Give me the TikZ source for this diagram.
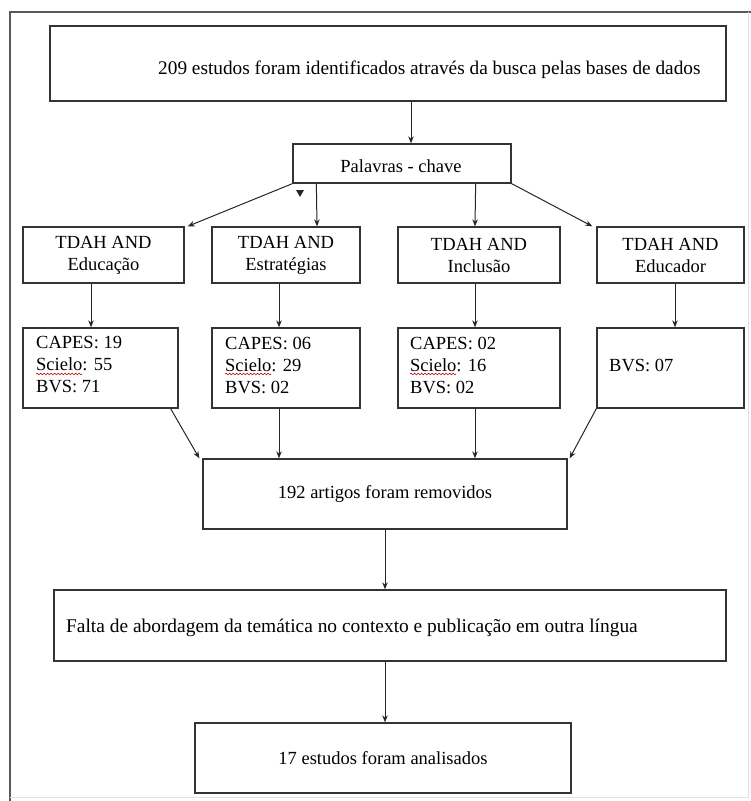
\documentclass[tikz,border=0pt]{standalone}
\usepackage{fontspec}
\setmainfont{Liberation Serif}
\usetikzlibrary{arrows.meta,decorations.pathmorphing}

\begin{document}
\begin{tikzpicture}[x=1pt,y=-1pt,
		caixa/.style={draw=black!80,line width=1.3pt,inner sep=0pt},
		texto/.style={anchor=west,inner sep=0pt,align=left},
		seta/.style={draw=black!85,line width=1pt,-{Stealth[length=7pt,width=5.5pt]}},
		onda/.style={draw=red!75!black,line width=0.6pt,decorate,decoration={snake,amplitude=0.8pt,segment length=3.5pt}},
		font=\fontsize{18.5}{22}\selectfont]

			\useasboundingbox (0,0) rectangle (751,801);
			\draw[black!65,line width=1.5pt] (10,801) -- (10,12) -- (751,12);
			\draw[black!12] (748,12) -- (748,797) -- (10,797);

			\node[caixa,minimum width=676,minimum height=75] (busca) at (388,63.5) {};
			\node[texto,font=\fontsize{19.3}{22}\selectfont] (tbusca) at (158,70) {209 estudos foram identificados através da busca pelas bases de dados};

			\node[caixa,minimum width=218,minimum height=39] (chave) at (402,163.5) {};
			\node (tchave) at (401,166) {Palavras - chave};

			\node[caixa,minimum width=161,minimum height=56,align=center] (e1) at (103.5,255) {TDAH AND\\Educação};
			\node[caixa,minimum width=148,minimum height=56,align=center] (e2) at (286,255) {TDAH AND\\Estratégias};
			\node[caixa,minimum width=162,minimum height=56,align=center] (e3) at (479,255) {TDAH AND\\Inclusão};
			\node[caixa,minimum width=147,minimum height=56,align=center] (e4) at (670.5,255) {TDAH AND\\Educador};

			\node[caixa,minimum width=155,minimum height=80] (b1) at (100.5,368) {};
			\node[caixa,minimum width=148,minimum height=80] (b2) at (286,368) {};
			\node[caixa,minimum width=162,minimum height=80] (b3) at (479,368) {};
			\node[caixa,minimum width=147,minimum height=80] (b4) at (670.5,368) {};

			\node[texto] (t1) at (36,365) {CAPES: 19\\Scielo: 55\\BVS: 71};
			\node[texto] (t2) at (225,365) {CAPES: 06\\Scielo: 29\\BVS: 02};
			\node[texto] (t3) at (410,365) {CAPES: 02\\Scielo: 16\\BVS: 02};
			\node[texto] (t4) at (609,365) {BVS: 07};

			\draw[onda] ([shift={(0,9)}]t1.west) -- ++(46,0);
			\draw[onda] ([shift={(0,9)}]t2.west) -- ++(46,0);
			\draw[onda] ([shift={(0,9)}]t3.west) -- ++(46,0);

			\node[caixa,minimum width=364,minimum height=70] (removidos) at (385,494) {192 artigos foram removidos};

			\node[caixa,minimum width=672,minimum height=71] (falta) at (390,625.5) {};
			\node[texto,font=\fontsize{19.4}{22}\selectfont] (tfalta) at (66,628) {Falta de abordagem da temática no contexto e publicação em outra língua};

			\node[caixa,minimum width=376,minimum height=70] (final) at (383,758) {17 estudos foram analisados};

			\draw[seta] ([xshift=23pt]busca.south) -- ([xshift=9pt]chave.north);

			\draw[seta] (chave.south west) -- ([xshift=3pt]e1.north east);
			\draw[seta] ([xshift=24pt]chave.south west) -- ([xshift=31pt]e2.north);
			\draw[seta] ([xshift=-36pt]chave.south east) -- ([xshift=-4pt]e3.north);
			\draw[seta] (chave.south east) -- ([xshift=-4pt]e4.north west);

			\coordinate (ponta) at (300,193);
			\fill[black!85] (ponta) ++(-4,-3) -- ++(8,0) -- ++(-4,7) -- cycle;

			\draw[seta] ([xshift=-12.5pt]e1.south) -- ([xshift=-9.5pt]b1.north);
			\draw[seta] ([xshift=-7pt]e2.south) -- ([xshift=-7pt]b2.north);
			\draw[seta] ([xshift=-4pt]e3.south) -- ([xshift=-4pt]b3.north);
			\draw[seta] ([xshift=4.5pt]e4.south) -- ([xshift=4.5pt]b4.north);

			\draw[seta] ([xshift=-8pt]b1.south east) -- ([xshift=-3pt]removidos.north west);
			\draw[seta] ([xshift=-7pt]b2.south) -- ([xshift=-106pt]removidos.north);
			\draw[seta] ([xshift=-4pt]b3.south) -- ([xshift=90pt]removidos.north);
			\draw[seta] (b4.south west) -- ([xshift=2pt]removidos.north east);

			\draw[seta] (removidos.south) -- ([xshift=-5pt]falta.north);
			\draw[seta] ([xshift=-5pt]falta.south) -- ([xshift=2pt]final.north);
		\end{tikzpicture}
\end{document}
